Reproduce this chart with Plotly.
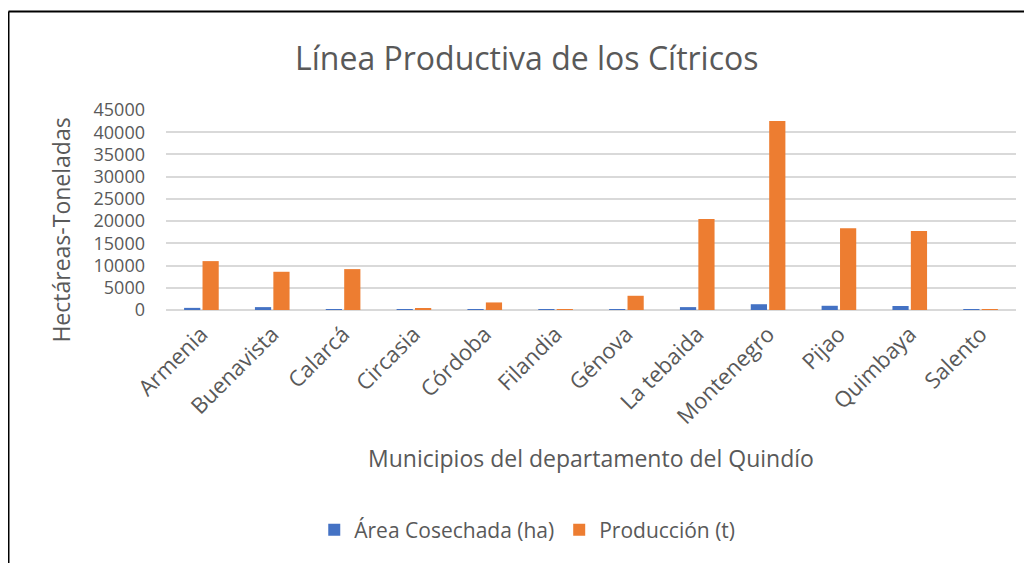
import plotly.graph_objects as go

# Datos
municipios = ["Armenia", "Buenavista", "Calarcá", "Circasia", "Córdoba", "Filandia",
              "Génova", "La tebaida", "Montenegro", "Pijao", "Quimbaya", "Salento"]
area_ha = [480, 650, 200, 20, 30, 10, 60, 650, 1300, 950, 900, 10]
produccion_t = [11000, 8600, 9200, 400, 1700, 50, 3200, 20500, 42500, 18400, 17800, 30]
y_ticks = [0, 5000, 10000, 15000, 20000, 25000, 30000, 35000, 40000, 45000]

AZUL = "#4472C4"
NARANJA = "#ED7D31"
GRIS = "#595959"
FUENTE = "Open Sans"

fig = go.Figure()
fig.add_trace(go.Bar(x=municipios, y=area_ha, name="Área Cosechada (ha)",
                     marker=dict(color=AZUL, line=dict(width=0))))
fig.add_trace(go.Bar(x=municipios, y=produccion_t, name="Producción (t)",
                     marker=dict(color=NARANJA, line=dict(width=0))))

fig.update_layout(
    width=1032, height=563,
    margin=dict(l=158, r=24, t=102, b=261),
    paper_bgcolor="white", plot_bgcolor="white",
    font=dict(family=FUENTE, color=GRIS, size=18),
    barmode="group", bargap=0.48, bargroupgap=0.12,
    showlegend=True,
    legend=dict(orientation="h", x=0.425, xanchor="center", y=-1.1, yanchor="middle",
                font=dict(size=21, color=GRIS), itemwidth=30,
                traceorder="normal"),
)
fig.update_yaxes(range=[0, 45000], tickvals=y_ticks, tickformat="d",
                 showgrid=True, gridcolor="#D9D9D9", gridwidth=1.5,
                 zeroline=True, zerolinecolor="#D9D9D9", zerolinewidth=1.5,
                 showline=False, ticks="", ticklabelstandoff=20,
                 tickfont=dict(size=18, color=GRIS))
fig.update_xaxes(tickangle=-45, showline=False, ticks="", showgrid=False,
                 ticklabelstandoff=6, tickfont=dict(size=22, color=GRIS))

fig.add_annotation(text="Línea Productiva de los Cítricos", xref="paper", yref="paper",
                   x=0.425, y=1.265, showarrow=False, xanchor="center", yanchor="middle",
                   font=dict(size=32, color=GRIS, family=FUENTE))
fig.add_annotation(text="Hectáreas-Toneladas", xref="paper", yref="paper",
                   x=-0.124, y=0.4, showarrow=False, textangle=-90,
                   xanchor="center", yanchor="middle",
                   font=dict(size=23, color=GRIS, family=FUENTE))
fig.add_annotation(text="Municipios del departamento del Quindío", xref="paper", yref="paper",
                   x=0.5, y=-0.74, showarrow=False, xanchor="center", yanchor="middle",
                   font=dict(size=23, color=GRIS, family=FUENTE))

# Marco del gráfico (solo borde izquierdo y superior visibles)
fig.add_shape(type="line", xref="paper", yref="paper", x0=-0.1853, x1=-0.1853,
              y0=-1.35, y1=1.4925, line=dict(color="black", width=2))
fig.add_shape(type="line", xref="paper", yref="paper", x0=-0.1853, x1=1.05,
              y0=1.4925, y1=1.4925, line=dict(color="black", width=2))

fig.write_html("out.html")
